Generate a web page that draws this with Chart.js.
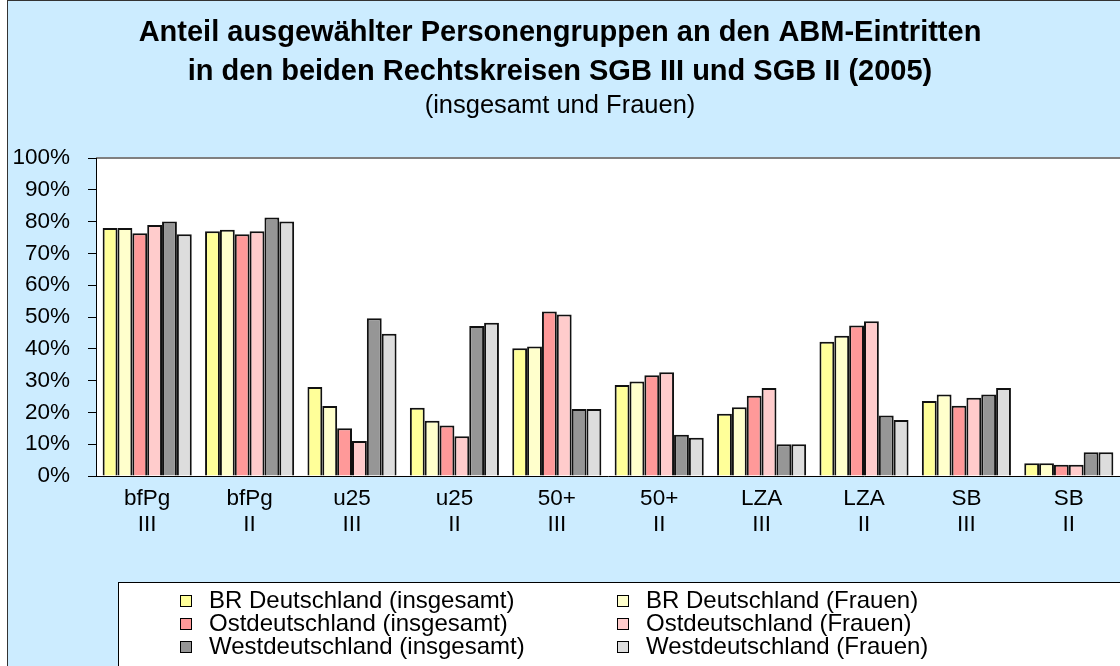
<!DOCTYPE html>
<html>
<head>
<meta charset="utf-8">
<script src="https://cdn.jsdelivr.net/npm/chart.js@4.4.0/dist/chart.umd.min.js"></script>
<style>
  html, body { margin: 0; padding: 0; background: #fff; }
  #diagramm { display: block; }
</style>
</head>
<body>
<canvas id="diagramm" width="1120" height="666"></canvas>
<script>
// Kategorien (Personengruppe / Rechtskreis)
var kategorien = [
  ['bfPg', 'III'], ['bfPg', 'II'],
  ['u25', 'III'], ['u25', 'II'],
  ['50+', 'III'], ['50+', 'II'],
  ['LZA', 'III'], ['LZA', 'II'],
  ['SB', 'III'], ['SB', 'II']
];

// Anteile in Prozent
var brInsgesamt   = [78.0, 77.0, 28.0, 21.5, 40.2, 28.6, 19.6, 42.2, 23.6, 4.0];
var brFrauen      = [78.0, 77.4, 22.0, 17.4, 40.7, 29.7, 21.6, 44.1, 25.6, 4.0];
var ostInsgesamt  = [76.3, 76.0, 15.0, 15.9, 51.7, 31.7, 25.2, 47.3, 22.1, 3.5];
var ostFrauen     = [78.9, 77.0, 11.0, 12.5, 50.8, 32.6, 27.7, 48.7, 24.6, 3.5];
var westInsgesamt = [80.0, 81.3, 49.6, 47.2, 21.1, 13.0, 10.0, 19.0, 25.6, 7.5];
var westFrauen    = [76.0, 80.0, 44.7, 48.2, 21.1, 12.0, 10.0, 17.6, 27.7, 7.5];

var serienNamen = [
  'BR Deutschland (insgesamt)', 'BR Deutschland (Frauen)',
  'Ostdeutschland (insgesamt)', 'Ostdeutschland (Frauen)',
  'Westdeutschland (insgesamt)', 'Westdeutschland (Frauen)'
];
var serienWerte = [brInsgesamt, brFrauen, ostInsgesamt, ostFrauen, westInsgesamt, westFrauen];
var serienFarben = ['#FFFF99', '#FFFFCC', '#FF9999', '#FFCCCC', '#969696', '#DDDDDD'];

var schrift = "'Liberation Sans', Arial, sans-serif";
Chart.defaults.color = '#000';
Chart.defaults.font.family = schrift;

// Hintergrund: hellblaue Flaeche mit Rahmen, weisser Plotbereich
var hintergrund = {
  id: 'hintergrund',
  beforeDraw: function (chart) {
    var ctx = chart.ctx, a = chart.chartArea;
    ctx.save();
    ctx.fillStyle = '#fff';
    ctx.fillRect(0, 0, chart.width, chart.height);
    ctx.fillStyle = '#CCECFF';
    ctx.fillRect(8, 1, chart.width, chart.height);
    ctx.strokeStyle = '#333';
    ctx.lineWidth = 1;
    ctx.strokeRect(7.5, 0.5, chart.width + 10, chart.height + 10);
    ctx.fillStyle = '#fff';
    ctx.fillRect(a.left, a.top, a.right - a.left, a.bottom - a.top);
    ctx.strokeStyle = '#808080';
    ctx.lineWidth = 2;
    ctx.beginPath();
    ctx.moveTo(a.left, a.top);
    ctx.lineTo(a.right, a.top);
    ctx.stroke();
    ctx.restore();
  }
};

// Legende in zwei Spalten, wie im Original
var legende = {
  id: 'legende',
  afterDraw: function (chart) {
    var ctx = chart.ctx;
    ctx.save();
    ctx.fillStyle = '#fff';
    ctx.fillRect(118, 582, chart.width, 100);
    ctx.strokeStyle = '#000';
    ctx.lineWidth = 1;
    ctx.strokeRect(118.5, 582.5, chart.width, 100);
    ctx.font = '24px ' + schrift;
    ctx.textBaseline = 'middle';
    var spalten = [180, 617];
    chart.data.datasets.forEach(function (ds, i) {
      var x = spalten[i % 2];
      var y = 601 + Math.floor(i / 2) * 23;
      ctx.fillStyle = ds.backgroundColor;
      ctx.fillRect(x, y - 6, 12, 12);
      ctx.strokeStyle = '#000';
      ctx.strokeRect(x + 0.5, y - 5.5, 11, 11);
      ctx.fillStyle = '#000';
      ctx.fillText(ds.label, x + 29, y);
    });
    ctx.restore();
  }
};

var ctx = document.getElementById('diagramm').getContext('2d');
var diagramm = new Chart(ctx, {
  type: 'bar',
  data: {
    labels: kategorien,
    datasets: serienWerte.map(function (werte, i) {
      return {
        label: serienNamen[i],
        data: werte,
        backgroundColor: serienFarben[i],
        borderColor: '#111',
        borderWidth: 2,
        categoryPercentage: 0.87,
        barPercentage: 1.0
      };
    })
  },
  options: {
    responsive: false,
    devicePixelRatio: 1,
    animation: false,
    layout: { padding: { left: 0, right: 0, top: 0, bottom: 100 } },
    plugins: {
      legend: { display: false },
      tooltip: { enabled: false },
      title: {
        display: true,
        text: ['Anteil ausgewählter Personengruppen an den ABM-Eintritten',
               'in den beiden Rechtskreisen SGB III und SGB II (2005)'],
        font: { size: 29, weight: 'bold', lineHeight: 39 / 29 },
        color: '#000',
        padding: { top: 13, bottom: 0 }
      },
      subtitle: {
        display: true,
        text: '(insgesamt und Frauen)',
        font: { size: 25.5, lineHeight: 1.2 },
        color: '#000',
        padding: { top: 0, bottom: 36.4 }
      }
    },
    scales: {
      x: {
        grid: { display: false, drawTicks: false },
        border: { display: true, color: '#000', width: 1 },
        ticks: { font: { size: 22.5, lineHeight: 26 / 22.5 }, padding: 10, maxRotation: 0, autoSkip: false },
        afterFit: function (s) { s.height = 90; }
      },
      y: {
        min: 0,
        max: 100,
        grid: { drawOnChartArea: false, drawTicks: true, tickLength: 8, color: '#000' },
        border: { display: true, color: '#000', width: 1 },
        ticks: {
          stepSize: 10,
          font: { size: 22.5 },
          padding: 18,
          callback: function (v) { return v + '%'; }
        },
        afterFit: function (s) { s.width = 96; }
      }
    }
  },
  plugins: [hintergrund, legende]
});
</script>
</body>
</html>
